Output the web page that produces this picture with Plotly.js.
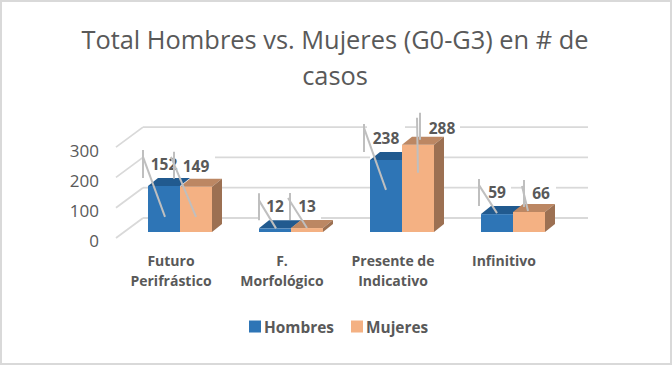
<!DOCTYPE html>
<html><head><meta charset="utf-8">
<script src="https://cdn.plot.ly/plotly-3.0.1.min.js"></script>
<style>html,body{margin:0;padding:0;background:#fff}#c{width:672px;height:365px}</style>
</head><body><div id="c"></div>
<script>
// ---- data ----
const categories = ['Futuro<br>Perifrástico', 'F.<br>Morfológico', 'Presente de<br>Indicativo', 'Infinitivo'];
const hombres = [152, 12, 238, 59];
const mujeres = [149, 13, 288, 66];
const yTicks = [0, 100, 200, 300];

// ---- scale helpers: screen offsets turned into axis units ----
const W = 672, H = 365, L = 100, R = 72, T = 100, B = 115;
const plotW = W - L - R, plotH = H - T - B;
const PX_PER_CAT = 111, PX_PER_UNIT = 0.303;
const LABEL_PX = 171, BAR_PX = 180;              // centre of category 0: tick label, bar pair
const AXIS_ZERO_PX = 241.5, BAR_ZERO_PX = 232;   // y pixel of value 0: axis labels, bars
const WALL_LIFT_PX = 3.5;                        // front wall edge sits this far above the axis labels
const dxU = px => px / PX_PER_CAT, dyU = px => px / PX_PER_UNIT;
const xr = c => [dxU(L - c), dxU(L + plotW - c)];
const yr = z => [-dyU(T + plotH - z), dyU(z - T)];
const xMain = px => (px - LABEL_PX) / PX_PER_CAT;
const idx = categories.map((_, i) => i);
const barW = dxU(32), depthX = dxU(10), depthY = dyU(8);
const wallY = dyU(20), lift = dyU(WALL_LIFT_PX);
const GRID = '#D9D9D9', TXT = '#595959', LEAD = '#BFBFBF';

const traces = [];
// back wall grid (broken where the white label boxes sit) and side wall
const gridRuns = {
  0:   [[143,148],[222,259],[321,370],[444,481],[555,588]],
  100: [[143,148],[222,370],[444,478],[511,523],[556,588]],
  200: [[215,370],[444,588]],
  300: [[143,367],[405,418],[460,588]]
};
yTicks.forEach(v => {
  const xs = [], ys = [];
  gridRuns[v].forEach(r => { xs.push(xMain(r[0]), xMain(r[1]), null); ys.push(v + lift + wallY, v + lift + wallY, null); });
  xs.push(xMain(116), xMain(143)); ys.push(v + lift, v + lift + wallY);
  traces.push({type:'scatter', mode:'lines', x:xs, y:ys, xaxis:'x', yaxis:'y', showlegend:false, hoverinfo:'skip',
    line:{color:GRID, width:1.8}});
});

function poly(x0, x1, v, kind){
  if (kind === 'top') return {x:[x0, x0+depthX, x1+depthX, x1, x0], y:[v, v+depthY, v+depthY, v, v]};
  return {x:[x1, x1+depthX, x1+depthX, x1, x1], y:[0, depthY, v+depthY, v, 0]};
}
function face(p, color, ax){
  traces.push({type:'scatter', mode:'lines', x:p.x, y:p.y, fill:'toself', fillcolor:color,
    line:{width:0, color:color}, xaxis:'x'+ax, yaxis:'y'+ax, showlegend:false, hoverinfo:'skip'});
}
// Hombres layer
traces.push({type:'bar', name:'Hombres', x:idx, y:hombres, width:barW, offset:-barW, marker:{color:'#2E75B6'},
  xaxis:'x2', yaxis:'y2', hoverinfo:'skip'});
idx.forEach(i => face(poly(i-barW, i, hombres[i], 'top'), '#215A8F', '2'));
// Mujeres layer
traces.push({type:'bar', name:'Mujeres', x:idx, y:mujeres, width:barW, offset:0, marker:{color:'#F4B183'},
  xaxis:'x3', yaxis:'y3', hoverinfo:'skip'});
idx.forEach(i => { face(poly(i, i+barW, mujeres[i], 'top'), '#BC8763', '3'); face(poly(i, i+barW, mujeres[i], 'side'), '#9C7052', '3'); });

// data labels then their leader lines; offsets are screen px from the bar's top centre
const labelOff = {h:[[0,-20],[0,-20],[0,-20],[0,-20]], m:[[0,-19],[0,-20],[24,-15],[12,-17]]};
const leadOff = {
  h:[[-21,-36,-8,-21,-29,1,31],[-16,-35,-8,-16,-28,1,0],[-22,-36,-8,-22,-32,0,30],[-18,-35,-8,-18,-29,0,-1]],
  m:[[-22,-35,-8,-25,-30,0,30],[-17,-35,-8,-19,-30,0,0],[2,-32,-5,-1,-27,0,28],[-5,-32,-5,-7,-26,-1,-1]]
};
[['h',hombres,-barW/2],['m',mujeres,barW/2]].forEach(([k,vals,c]) => {
  traces.push({type:'scatter', mode:'text', x:idx.map(i=>i+c+dxU(labelOff[k][i][0])), y:vals.map((v,i)=>v-dyU(labelOff[k][i][1])),
    text:vals.map(String), textposition:'middle center', textfont:{family:'Open Sans', size:15.5, color:TXT, weight:700},
    xaxis:'x3', yaxis:'y3', showlegend:false, hoverinfo:'skip'});
});
[['h',hombres,-barW/2],['m',mujeres,barW/2]].forEach(([k,vals,c]) => {
  const xs=[], ys=[];
  idx.forEach(i => {
    const o = leadOff[k][i], cx = i+c, v = vals[i];
    xs.push(cx+dxU(o[0]), cx+dxU(o[0]), null, cx+dxU(o[3]), cx+dxU(o[5]), null);
    ys.push(v-dyU(o[1]), v-dyU(o[2]), null, v-dyU(o[4]), v-dyU(o[6]), null);
  });
  traces.push({type:'scatter', mode:'lines', x:xs, y:ys, line:{color:LEAD, width:2},
    xaxis:'x3', yaxis:'y3', showlegend:false, hoverinfo:'skip'});
});

const hidden = {visible:false, showgrid:false, zeroline:false, fixedrange:true};
const layout = {
  width:W, height:H, paper_bgcolor:'#fff', plot_bgcolor:'rgba(0,0,0,0)',
  margin:{l:L, r:R, t:T, b:B, pad:0},
  font:{family:'Open Sans', color:TXT},
  title:{text:'<span style="font-size:25.4px">Total Hombres vs. Mujeres (G0-G3) en # de<br>casos</span>',
    font:{family:'Open Sans', size:28, color:TXT}, x:335/W, xanchor:'center', y:0.866, yanchor:'top', yref:'container'},
  xaxis:{type:'linear', range:xr(LABEL_PX), tickmode:'array', tickvals:idx,
    ticktext:categories.map(c=>'<span style="font-size:14px"><b>'+c+'</b></span>'),
    tickfont:{family:'Open Sans', size:15.4, color:TXT}, showgrid:false, zeroline:false, showline:false, ticks:'', fixedrange:true},
  yaxis:{type:'linear', range:yr(AXIS_ZERO_PX), tickmode:'array', tickvals:yTicks, ticktext:yTicks.map(String),
    tickfont:{family:'Open Sans', size:17, color:TXT}, showgrid:false, zeroline:false, showline:false, ticks:'', fixedrange:true},
  xaxis2:Object.assign({overlaying:'x', range:xr(BAR_PX)}, hidden),
  yaxis2:Object.assign({overlaying:'y', range:yr(BAR_ZERO_PX)}, hidden),
  xaxis3:Object.assign({overlaying:'x', range:xr(BAR_PX)}, hidden),
  yaxis3:Object.assign({overlaying:'y', range:yr(BAR_ZERO_PX)}, hidden),
  legend:{orientation:'h', x:(224-L)/plotW, xanchor:'left', y:1-(310-T)/plotH, yanchor:'top', entrywidth:57, entrywidthmode:'pixels',
    font:{family:'Open Sans', size:15.4, color:TXT, weight:700}, bgcolor:'rgba(0,0,0,0)'},
  showlegend:true,
  shapes:[{type:'rect', xref:'paper', yref:'paper', x0:-(L-1)/plotW, x1:1+(R-1)/plotW, y0:-(B-1)/plotH, y1:1+(T-1)/plotH,
    line:{color:'#D9D9D9', width:2}, fillcolor:'rgba(0,0,0,0)', layer:'above'}]
};
Plotly.newPlot('c', traces, layout, {displayModeBar:false, responsive:false}).then(() => {
  // the reference keeps each legend swatch close to its text
  document.querySelectorAll('#c .legendsymbols').forEach(g => g.setAttribute('transform', 'translate(11,0)'));
});
</script></body></html>
